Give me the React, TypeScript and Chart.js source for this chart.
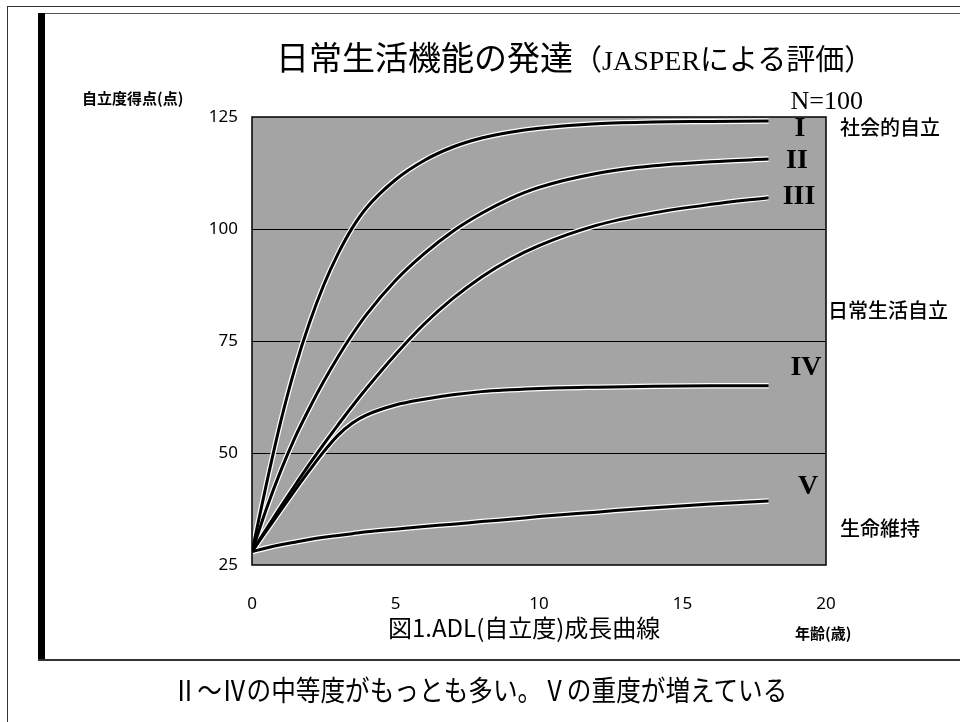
import React, { useEffect, useRef } from "react";
import { Chart, registerables } from "chart.js";

Chart.register(...registerables);

// ---- data ----
const ages = [0, 0.5, 1, 1.5, 2, 2.5, 3, 3.5, 4, 5, 6, 7, 8, 9, 10, 12, 14, 16, 18];
const curveI = [28, 43, 57, 69, 79, 87.5, 94.5, 100.3, 104.8, 111, 115.3, 118.3, 120.3, 121.6, 122.5, 123.5, 123.9, 124, 124.1];
const curveII = [28, 37.5, 46, 53.5, 60, 66, 71.5, 76.5, 81, 88.5, 94.5, 99.5, 103.5, 106.8, 109.3, 112.4, 114.1, 115, 115.6];
const curveIII = [28, 33, 38, 42.8, 47.5, 52, 56.3, 60.5, 64.5, 72, 78.8, 84.5, 89.3, 93.2, 96.3, 100.8, 103.6, 105.5, 107];
const curveIV = [28, 32.6, 37.2, 41.7, 46.1, 50.3, 54, 56.7, 58.5, 60.7, 62, 63, 63.7, 64.1, 64.4, 64.7, 64.9, 65, 65];
const curveV = [28, 28.8, 29.5, 30.1, 30.7, 31.2, 31.6, 32, 32.4, 33, 33.6, 34.1, 34.7, 35.2, 35.8, 36.8, 37.8, 38.6, 39.3];
const seriesList = [curveI, curveII, curveIII, curveIV, curveV];
const xTicks = [0, 5, 10, 15, 20];
const yTicks = [25, 50, 75, 100, 125];
const yGridValues = [50, 75, 100];

const toPoints = (vals: number[]) => vals.map((v, i) => ({ x: ages[i], y: v }));

const plotBg = {
  id: "plotBg",
  beforeDraw(chart: any) {
    const { ctx, chartArea: a } = chart;
    ctx.save();
    ctx.fillStyle = "#a4a4a4";
    ctx.fillRect(a.left, a.top, a.right - a.left, a.bottom - a.top);
    ctx.restore();
  },
  afterDraw(chart: any) {
    const { ctx, chartArea: a } = chart;
    ctx.save();
    ctx.strokeStyle = "#000";
    ctx.lineWidth = 1.5;
    ctx.strokeRect(a.left, a.top, a.right - a.left, a.bottom - a.top);
    ctx.restore();
  },
};

const abs = (s: React.CSSProperties): React.CSSProperties => ({
  position: "absolute",
  whiteSpace: "nowrap",
  lineHeight: 1,
  margin: 0,
  ...s,
});

const JP = '"Noto Sans CJK JP", "Noto Sans", sans-serif';
const SERIF = '"Liberation Serif", "DejaVu Serif", serif';

export default function App() {
  const ref = useRef<HTMLCanvasElement | null>(null);

  useEffect(() => {
    if (!ref.current) return;
    const black = seriesList.map((s) => ({
      data: toPoints(s),
      borderColor: "#000",
      borderWidth: 3,
      pointRadius: 0,
      cubicInterpolationMode: "monotone" as const,
      fill: false,
    }));
    const halo = seriesList.map((s) => ({
      data: toPoints(s),
      borderColor: "#ffffff",
      borderWidth: 5.5,
      pointRadius: 0,
      cubicInterpolationMode: "monotone" as const,
      fill: false,
    }));
    const chart = new Chart(ref.current, {
      type: "line",
      data: { datasets: [...black, ...halo] },
      options: {
        responsive: false,
        animation: false,
        devicePixelRatio: 1,
        layout: { padding: { top: 117, right: 134, left: 0, bottom: 0 } },
        plugins: { legend: { display: false }, tooltip: { enabled: false }, title: { display: false } },
        scales: {
          x: {
            type: "linear",
            min: 0,
            max: 20,
            afterFit: (s: any) => { s.height = 157; },
            afterBuildTicks: (s: any) => { s.ticks = xTicks.map((v) => ({ value: v })); },
            grid: { display: false, drawTicks: false },
            border: { display: false },
            ticks: { padding: 29, color: "#000", font: { family: '"Noto Sans", sans-serif', size: 17 }, maxRotation: 0 },
          },
          y: {
            type: "linear",
            min: 25,
            max: 125,
            afterFit: (s: any) => { s.width = 252; },
            afterBuildTicks: (s: any) => { s.ticks = yTicks.map((v) => ({ value: v })); },
            grid: {
              drawTicks: false,
              lineWidth: 1,
              color: (c: any) => (yGridValues.includes(c.tick?.value) ? "#000" : "rgba(0,0,0,0)"),
            },
            border: { display: false },
            ticks: { padding: 14, color: "#000", font: { family: '"Noto Sans", sans-serif', size: 17 } },
          },
        },
      },
      plugins: [plotBg],
    });
    return () => chart.destroy();
  }, []);

  const roman = (txt: string, x: number, y: number) => (
    <div style={abs({ left: x, top: y, transform: "translate(-50%,-50%)", fontFamily: SERIF, fontWeight: 700, fontSize: 28 })}>{txt}</div>
  );

  return (
    <div style={{ position: "absolute", left: 0, top: 0, width: 960, height: 722, background: "#fff", overflow: "hidden" }}>
      <canvas ref={ref} width={960} height={722} style={{ position: "absolute", left: 0, top: 0, width: 960, height: 722 }} />

      {/* frame */}
      <div style={abs({ left: 7, top: 6, width: 1, height: 716, background: "#333" })} />
      <div style={abs({ left: 7, top: 6, width: 953, height: 1, background: "#333" })} />
      <div style={abs({ left: 44, top: 13, width: 916, height: 1, background: "#555" })} />
      <div style={abs({ left: 38, top: 13, width: 7, height: 647, background: "#000" })} />
      <div style={abs({ left: 38, top: 659, width: 922, height: 2, background: "#333" })} />

      {/* title */}
      <div style={abs({ left: 276, top: 40, fontFamily: JP, fontSize: 33, color: "#000" })}>
        日常生活機能の発達
        <span style={{ fontSize: 29 }}>（<span style={{ fontFamily: SERIF, fontSize: 28 }}>JASPER</span>による評価）</span>
      </div>
      <div style={abs({ right: 960 - 863, top: 88, fontFamily: SERIF, fontSize: 26, color: "#000" })}>N=100</div>

      <div style={abs({ left: 82, top: 90, fontFamily: JP, fontSize: 15, fontWeight: 700, color: "#000" })}>自立度得点(点)</div>

      {/* roman numerals */}
      {roman("I", 800, 127)}
      {roman("II", 797, 159)}
      {roman("III", 799, 195)}
      {roman("IV", 806, 366)}
      {roman("V", 808, 485)}

      {/* right side labels */}
      <div style={abs({ left: 840, top: 117, fontFamily: JP, fontSize: 20, fontWeight: 500 })}>社会的自立</div>
      <div style={abs({ left: 828, top: 300, fontFamily: JP, fontSize: 20, fontWeight: 500 })}>日常生活自立</div>
      <div style={abs({ left: 840, top: 518, fontFamily: JP, fontSize: 20, fontWeight: 500 })}>生命維持</div>

      {/* axis captions */}
      <div style={abs({ left: 388, top: 615, fontFamily: JP, fontSize: 24 })}>図1.ADL(自立度)成長曲線</div>
      <div style={abs({ left: 795, top: 625, fontFamily: JP, fontSize: 15, fontWeight: 700 })}>年齢(歳)</div>

      {/* bottom caption */}
      <div style={abs({ left: 0, width: 960, top: 675, textAlign: "center", fontFamily: JP, fontSize: 28, transform: "scaleX(0.88)", transformOrigin: "center" })}>
        Ⅱ～Ⅳの中等度がもっとも多い。Ⅴの重度が増えている
      </div>
    </div>
  );
}
